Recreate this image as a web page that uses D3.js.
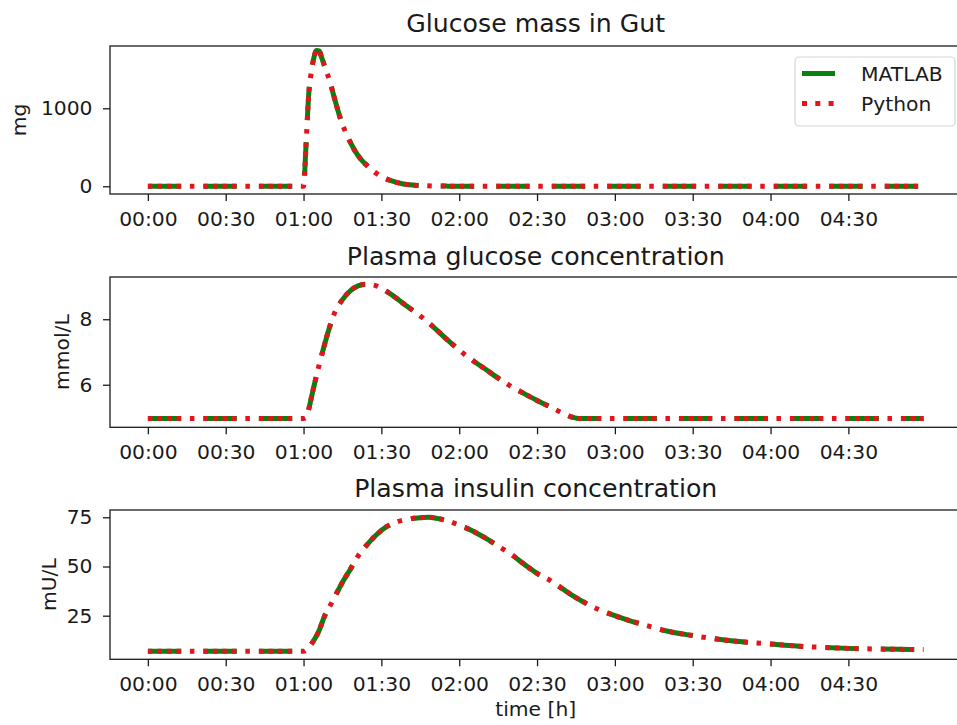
<!DOCTYPE html>
<html>
<head>
<meta charset="utf-8">
<script src="https://cdn.jsdelivr.net/npm/d3@7"></script>
<style>
  html, body { margin: 0; padding: 0; background: #ffffff; }
  svg { display: block; font-family: "DejaVu Sans", sans-serif; }
</style>
</head>
<body>
<svg id="chart" width="957" height="725"></svg>
<script>
// ---------- data (time in minutes) ----------
const xTickMinutes = [0, 30, 60, 90, 120, 150, 180, 210, 240, 270];
const xTickLabels = ["00:00", "00:30", "01:00", "01:30", "02:00", "02:30", "03:00", "03:30", "04:00", "04:30"];

const gutTime = [0, 60, 61, 62, 63, 64, 65, 66, 67, 68, 70, 72, 74, 76, 78, 80, 82, 85, 88, 91, 94, 98, 102, 106, 110, 115, 120, 130, 299];
const gutMass = [0, 0, 560, 1180, 1470, 1650, 1740, 1735, 1650, 1550, 1360, 1120, 890, 710, 565, 445, 350, 250, 168, 108, 68, 33, 16, 8, 4, 2, 1, 0, 0];

const glucoseTime = [0, 60, 61, 62, 63, 64, 66, 68, 70, 72, 75, 78, 81, 84, 88, 92, 96, 100, 105, 110, 115, 120, 125, 130, 135, 140, 145, 150, 155, 160, 164, 166, 299];
const glucoseConc = [4.97, 4.97, 5.0, 5.25, 5.6, 5.95, 6.6, 7.2, 7.75, 8.2, 8.6, 8.87, 9.02, 9.07, 9.02, 8.85, 8.63, 8.39, 8.1, 7.77, 7.4, 7.06, 6.75, 6.48, 6.2, 5.95, 5.73, 5.52, 5.33, 5.13, 5.0, 4.97, 4.97];

const insulinTime = [0, 60, 62, 64, 66, 68, 70, 72, 75, 78, 81, 84, 88, 92, 96, 100, 105, 108, 112, 116, 120, 125, 130, 135, 140, 145, 150, 155, 160, 165, 170, 175, 180, 185, 190, 195, 200, 210, 220, 230, 240, 250, 260, 270, 280, 290, 299];
const insulinConc = [7.0, 7.0, 9, 12.5, 17.5, 24.5, 29.5, 34.5, 42, 48.5, 55.3, 60.3, 66, 70.2, 72.6, 74, 74.8, 75, 74.3, 73, 71, 68.2, 64.5, 60.4, 56.2, 51.2, 46.5, 43, 38.5, 34.2, 30.5, 27.5, 25, 22.8, 20.8, 19, 17.2, 14.9, 13, 11.6, 10.6, 9.6, 8.9, 8.4, 8.1, 7.9, 7.8];

const panelTitles = ["Glucose mass in Gut", "Plasma glucose concentration", "Plasma insulin concentration"];
const panelYLabels = ["mg", "mmol/L", "mU/L"];
const panelYTicks = [[0, 1000], [6, 8], [25, 50, 75]];
const seriesNames = ["MATLAB", "Python"];

// ---------- layout ----------
const svg = d3.select("#chart");
const FONT = 20.3, TITLE_FONT = 25.2;
const textColor = "#1a1a1a";
const green = "#0a800f", red = "#e3141c";
const LW = 5;

const x = d3.scaleLinear().domain([-14.6, 313.6]).range([110, 961.5]);

const panels = [
  { time: gutTime, values: gutMass, top: 46, bottom: 194, domain: [-99, 1799], titleY: 31.5, ylabelX: 25.5 },
  { time: glucoseTime, values: glucoseConc, top: 277, bottom: 427.3, domain: [4.70, 9.29], titleY: 265, ylabelX: 69 },
  { time: insulinTime, values: insulinConc, top: 510, bottom: 659.3, domain: [2.85, 78.7], titleY: 496.5, ylabelX: 55.5 }
];

const greenDash = "33.5,22";
const redDash = "4.5,5,4.5,5,4.5,5,4.5,9,4.5,9";

panels.forEach((p, i) => {
  const y = d3.scaleLinear().domain(p.domain).range([p.bottom, p.top]);
  const g = svg.append("g");

  // x axis
  const xAxis = d3.axisBottom(x)
    .tickValues(xTickMinutes)
    .tickFormat((d, k) => xTickLabels[k])
    .tickSize(7).tickSizeOuter(0).tickPadding(10.2);
  const gx = g.append("g").attr("transform", `translate(0,${p.bottom})`).call(xAxis);
  gx.select(".domain").remove();
  gx.selectAll("line").attr("stroke", textColor).attr("stroke-width", 1.3);
  gx.selectAll("text").attr("font-size", FONT).attr("fill", textColor).attr("font-family", "DejaVu Sans");

  // y axis
  const yAxis = d3.axisLeft(y).tickValues(panelYTicks[i]).tickFormat(d3.format("d"))
    .tickSize(7).tickSizeOuter(0).tickPadding(10.5);
  const gy = g.append("g").attr("transform", `translate(${x.range()[0]},0)`).call(yAxis);
  gy.select(".domain").remove();
  gy.selectAll("line").attr("stroke", textColor).attr("stroke-width", 1.3);
  gy.selectAll("text").attr("font-size", FONT).attr("fill", textColor).attr("font-family", "DejaVu Sans");

  // lines
  const pts = p.time.map((t, k) => [t, p.values[k]]);
  const line = d3.line().x(d => x(d[0])).y(d => y(d[1])).curve(d3.curveMonotoneX);
  g.append("path").datum(pts).attr("d", line)
    .attr("fill", "none").attr("stroke", green).attr("stroke-width", LW)
    .attr("stroke-dasharray", greenDash).attr("stroke-linejoin", "round");
  g.append("path").datum(pts).attr("d", line)
    .attr("fill", "none").attr("stroke", red).attr("stroke-width", LW)
    .attr("stroke-dasharray", redDash).attr("stroke-linejoin", "round");

  // frame (spines)
  g.append("rect")
    .attr("x", x.range()[0]).attr("y", p.top)
    .attr("width", x.range()[1] - x.range()[0]).attr("height", p.bottom - p.top)
    .attr("fill", "none").attr("stroke", textColor).attr("stroke-width", 1.3);

  // title
  g.append("text").attr("x", (x.range()[0] + x.range()[1]) / 2).attr("y", p.titleY)
    .attr("text-anchor", "middle").attr("font-size", TITLE_FONT).attr("fill", textColor)
    .text(panelTitles[i]);

  // y label
  const cy = (p.top + p.bottom) / 2;
  g.append("text").attr("transform", `translate(${p.ylabelX},${cy}) rotate(-90)`)
    .attr("text-anchor", "middle").attr("font-size", FONT).attr("fill", textColor)
    .text(panelYLabels[i]);
});

// x label
svg.append("text").attr("x", (x.range()[0] + x.range()[1]) / 2).attr("y", 716)
  .attr("text-anchor", "middle").attr("font-size", FONT).attr("fill", textColor)
  .text("time [h]");

// legend
const lg = svg.append("g");
lg.append("rect").attr("x", 795).attr("y", 57).attr("width", 160).attr("height", 69).attr("rx", 4)
  .attr("fill", "#ffffff").attr("fill-opacity", 0.8).attr("stroke", "#d4d4d4").attr("stroke-width", 1.2);
const legendStyles = [
  { color: green, dash: null, y: 73.5 },
  { color: red, dash: "5,8.3", y: 103.5 }
];
seriesNames.forEach((name, i) => {
  const s = legendStyles[i];
  const ln = lg.append("line").attr("x1", 802).attr("x2", 835).attr("y1", s.y).attr("y2", s.y)
    .attr("stroke", s.color).attr("stroke-width", LW);
  if (s.dash) ln.attr("stroke-dasharray", s.dash);
  lg.append("text").attr("x", 861).attr("y", s.y).attr("dy", "0.36em")
    .attr("font-size", FONT).attr("fill", textColor).text(name);
});
</script>
</body>
</html>
